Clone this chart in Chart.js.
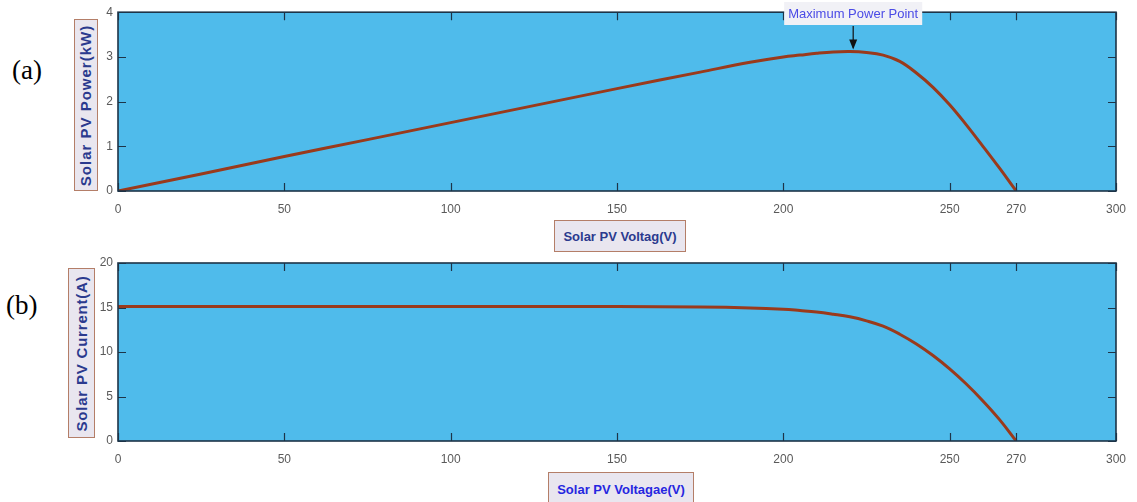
<!DOCTYPE html>
<html>
<head>
<meta charset="utf-8">
<script src="https://cdn.jsdelivr.net/npm/chart.js@4.4.1/dist/chart.umd.min.js"></script>
<style>
  body { margin: 0; background: #fff; width: 1137px; height: 502px; overflow: hidden; position: relative; font-family: "Liberation Sans", Arial, sans-serif; }
  .wrap { position: absolute; left: 0; width: 1137px; height: 225px; }
  .panel { position: absolute; font-family: "Liberation Serif", "Times New Roman", serif; font-size: 27px; line-height: 30px; color: #000; }
  .box { position: absolute; background: #e9e6ef; border: 1px solid #b47e68; display: flex; align-items: center; justify-content: center; box-sizing: border-box; }
  .box span { white-space: nowrap; font-weight: bold; }
  .ybox span { transform: rotate(-90deg); font-size: 15px; letter-spacing: 1px; color: #2b3a8e; }
</style>
</head>
<body>
<div class="panel" style="left:12px; top:55px;">(a)</div>
<div class="panel" style="left:6px; top:290px;">(b)</div>

<div class="box ybox" style="left:74px; top:19px; width:24px; height:172px;"><span>Solar PV Power(kW)</span></div>
<div class="box ybox" style="left:68px; top:268px; width:27px; height:170px;"><span style="letter-spacing:0.8px;">Solar PV Current(A)</span></div>

<div class="box" style="left:554px; top:220px; width:132px; height:32px;"><span style="font-size:13px; color:#2b3a8e;">Solar PV Voltag(V)</span></div>
<div class="box" style="left:548px; top:472px; width:146px; height:34px;"><span style="font-size:13px; color:#2626e0;">Solar PV Voltagae(V)</span></div>

<div class="wrap" style="top:0px;"><canvas id="chartPower"></canvas></div>
<div class="wrap" style="top:250px;"><canvas id="chartCurrent"></canvas></div>

<script>
// values
const voltage  = [0, 25, 50, 75, 100, 125, 150, 175, 190, 200, 205, 210, 215, 220, 225, 230, 235, 240, 245, 250, 255, 260, 265, 270];
const powerKW  = [0, 0.38, 0.77, 1.15, 1.53, 1.91, 2.29, 2.66, 2.88, 3.0, 3.04, 3.08, 3.11, 3.12, 3.10, 3.04, 2.90, 2.64, 2.32, 1.93, 1.48, 1.0, 0.51, 0];
const currentA = [15.1, 15.1, 15.1, 15.1, 15.1, 15.1, 15.1, 15.05, 14.95, 14.8, 14.66, 14.5, 14.25, 13.95, 13.5, 12.9, 12.0, 10.9, 9.6, 8.1, 6.4, 4.5, 2.4, 0];

const xTicks = [0, 50, 100, 150, 200, 250, 270, 300];
const powerTicks = [0, 1, 2, 3, 4];
const currentTicks = [0, 5, 10, 15, 20];

const mppVoltage = 221;
const mppPower = 3.12;
const mppLabel = 'Maximum Power Point';

const plotBg = '#4fbbeb';
const frameColor = '#1d3448';
const lineColor = '#9a3a1c';

// background, inward ticks on all four sides, box border
const framePlugin = {
    id: 'frame',
    beforeDraw(chart) {
        const a = chart.chartArea;
        const ctx = chart.ctx;
        ctx.save();
        ctx.fillStyle = plotBg;
        ctx.fillRect(a.left, a.top, a.right - a.left, a.bottom - a.top);
        ctx.restore();
    },
    afterDatasetsDraw(chart) {
        const a = chart.chartArea;
        const ctx = chart.ctx;
        const xs = chart.scales.x;
        const ys = chart.scales.y;
        const len = 8;
        ctx.save();
        ctx.strokeStyle = frameColor;
        ctx.lineWidth = 1.2;
        ctx.beginPath();
        xs.ticks.forEach(t => {
            const px = Math.round(xs.getPixelForValue(t.value)) + 0.5;
            ctx.moveTo(px, a.bottom); ctx.lineTo(px, a.bottom - len);
            ctx.moveTo(px, a.top); ctx.lineTo(px, a.top + len);
        });
        ys.ticks.forEach(t => {
            const py = Math.round(ys.getPixelForValue(t.value)) + 0.5;
            ctx.moveTo(a.left, py); ctx.lineTo(a.left + len, py);
            ctx.moveTo(a.right, py); ctx.lineTo(a.right - len, py);
        });
        ctx.stroke();
        ctx.lineWidth = 1.6;
        ctx.strokeRect(a.left, a.top, a.right - a.left, a.bottom - a.top);
        ctx.restore();
    }
};

// text box + arrow pointing at the maximum power point
const mppPlugin = {
    id: 'mpp',
    afterDraw(chart, args, opts) {
        if (!opts || !opts.show) return;
        const ctx = chart.ctx;
        const px = chart.scales.x.getPixelForValue(mppVoltage);
        const py = chart.scales.y.getPixelForValue(mppPower);
        ctx.save();
        ctx.font = '13px "Liberation Sans", Arial, sans-serif';
        const w = ctx.measureText(mppLabel).width + 8;
        ctx.fillStyle = '#f1f1f6';
        ctx.fillRect(px - w / 2, 2, w, 23);
        ctx.fillStyle = '#4b4be6';
        ctx.textAlign = 'center';
        ctx.textBaseline = 'middle';
        ctx.fillText(mppLabel, px, 14);
        // arrow
        ctx.strokeStyle = '#111';
        ctx.fillStyle = '#111';
        ctx.lineWidth = 1.2;
        ctx.beginPath();
        ctx.moveTo(px, 26);
        ctx.lineTo(px, py - 4);
        ctx.stroke();
        ctx.beginPath();
        ctx.moveTo(px - 4, py - 12);
        ctx.lineTo(px + 4, py - 12);
        ctx.lineTo(px, py - 2);
        ctx.closePath();
        ctx.fill();
        ctx.restore();
    }
};

function makeChart(id, yValues, yTicks, padTop, showMpp) {
    const canvas = document.getElementById(id);
    if (!canvas) {
        console.error('Canvas not found:', id);
        return null;
    }
    const points = voltage.map((v, i) => ({ x: v, y: yValues[i] }));
    const tickFont = { family: '"Liberation Sans", Arial, sans-serif', size: 12 };

    return new Chart(canvas.getContext('2d'), {
        type: 'line',
        data: {
            datasets: [{
                data: points,
                borderColor: lineColor,
                borderWidth: 3,
                pointRadius: 0,
                tension: 0.4,
                fill: false
            }]
        },
        options: {
            responsive: true,
            maintainAspectRatio: false,
            animation: false,
            layout: { padding: { left: 0, right: 16, top: padTop, bottom: 0 } },
            plugins: {
                legend: { display: false },
                tooltip: { enabled: false },
                mpp: { show: showMpp }
            },
            scales: {
                x: {
                    type: 'linear',
                    min: 0,
                    max: 300,
                    afterBuildTicks: (s) => { s.ticks = xTicks.map(v => ({ value: v })); },
                    afterFit: (s) => { s.height = 225 - 191; },
                    grid: { display: false, drawTicks: false },
                    border: { display: false },
                    ticks: { color: '#5a5a5a', font: tickFont, padding: 11, maxRotation: 0, autoSkip: false }
                },
                y: {
                    min: yTicks[0],
                    max: yTicks[yTicks.length - 1],
                    afterBuildTicks: (s) => { s.ticks = yTicks.map(v => ({ value: v })); },
                    afterFit: (s) => { s.width = 118; },
                    grid: { display: false, drawTicks: false },
                    border: { display: false },
                    ticks: { color: '#5a5a5a', font: tickFont, padding: 5 }
                }
            }
        },
        plugins: [framePlugin, mppPlugin]
    });
}

makeChart('chartPower', powerKW, powerTicks, 12, true);
makeChart('chartCurrent', currentA, currentTicks, 13, false);
</script>
</body>
</html>
